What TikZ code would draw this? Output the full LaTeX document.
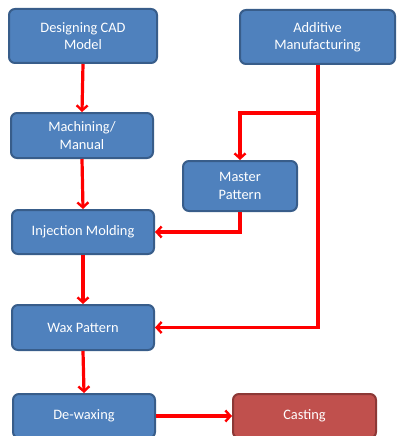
\documentclass[tikz,border=0pt]{standalone}
\usepackage{fontspec}
\setmainfont{Carlito}
\usetikzlibrary{arrows.meta}
\definecolor{boxblue}{HTML}{4F81BD}
\definecolor{boxblueline}{HTML}{385D8A}
\definecolor{boxred}{HTML}{C0504D}
\definecolor{boxredline}{HTML}{8C3836}
\tikzset{
  box/.style={draw=boxblueline, fill=boxblue, line width=2pt, rounded corners=6pt,
    text=white, align=center, inner sep=0pt, font=\fontsize{14.4}{17.5}\selectfont},
  redbox/.style={box, draw=boxredline, fill=boxred},
  link/.style={draw=red, line width=3.2pt},
  arr/.style={link, -{Straight Barb[length=5pt,width=11pt,line width=2.4pt]}}
}
\begin{document}
\begin{tikzpicture}[x=1pt,y=-1pt]
\clip (0,0) rectangle (396,436);
\useasboundingbox (0,0) rectangle (396,436);
\node[box, minimum width=148pt, minimum height=54pt] (cad) at (83,36) {Designing CAD\\Model};
\node[box, minimum width=155pt, minimum height=54pt] (add) at (317.5,37) {Additive\\Manufacturing};
\node[box, minimum width=142pt, minimum height=45pt] (mach) at (82,135.5) {Machining/\\Manual};
\node[box, minimum width=114pt, minimum height=50pt] (mas) at (240,186) {Master\\Pattern};
\node[box, minimum width=142pt, minimum height=44pt] (inj) at (83,232) {Injection Molding};
\node[box, minimum width=142pt, minimum height=45pt] (wax) at (83,327.5) {Wax Pattern};
\node[box, minimum width=142pt, minimum height=44pt] (dew) at (84,416) {De-waxing};
\node[redbox, minimum width=143pt, minimum height=44pt] (cast) at (304.5,416) {Casting};
\coordinate (j) at (318,113);
\draw[arr] (cad.south) -- (mach.north);
\draw[arr] (mach.south) -- (inj.north);
\draw[arr] (inj.south) -- (wax.north);
\draw[arr] (wax.south) -- (dew.north);
\draw[link] (add.south -| j) -- (j);
\draw[arr] (j) -| (mas.north);
\draw[arr] (j) |- (wax.east);
\draw[arr] (mas.south) |- (inj.east);
\draw[arr] (dew.east) -- (cast.west);
\end{tikzpicture}
\end{document}
